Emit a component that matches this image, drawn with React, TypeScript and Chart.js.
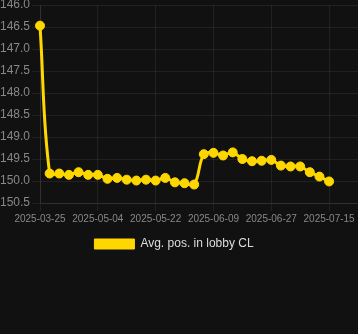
import React, { useEffect, useRef } from 'react';
import { Chart, registerables } from 'chart.js';

Chart.register(...registerables);

const dates: string[] = [
  '2025-03-25', '2025-04-19', '2025-04-22', '2025-04-25', '2025-04-28', '2025-05-01',
  '2025-05-04', '2025-05-07', '2025-05-10', '2025-05-13', '2025-05-16', '2025-05-19',
  '2025-05-22', '2025-05-25', '2025-05-28', '2025-05-31', '2025-06-03', '2025-06-06',
  '2025-06-09', '2025-06-12', '2025-06-15', '2025-06-18', '2025-06-21', '2025-06-24',
  '2025-06-27', '2025-06-30', '2025-07-03', '2025-07-06', '2025-07-09', '2025-07-12',
  '2025-07-15',
];

const avgPos: number[] = [
  146.47, 149.83, 149.83, 149.86, 149.80, 149.86,
  149.86, 149.95, 149.93, 149.97, 149.99, 149.97,
  149.99, 149.93, 150.03, 150.05, 150.08, 149.39,
  149.36, 149.42, 149.35, 149.50, 149.55, 149.54,
  149.52, 149.65, 149.67, 149.67, 149.80, 149.90,
  150.01,
];

const seriesLabel = 'Avg. pos. in lobby CL';
const yMin = 146;
const yMax = 150.5;
const yStep = 0.5;
const xTickStep = 6;
const xMax = 33;

const GOLD = '#FFD700';
const GRID = 'rgba(255,255,255,0.07)';
const TICK = '#888888';

export default function App() {
  const ref = useRef<HTMLCanvasElement>(null);

  useEffect(() => {
    document.documentElement.style.background = '#111111';
    document.body.style.margin = '0';
    document.body.style.background = '#111111';
    Chart.defaults.font.family = "'Liberation Sans', Arial, sans-serif";

    const chart = new Chart(ref.current as HTMLCanvasElement, {
      type: 'line',
      data: {
        datasets: [
          {
            label: seriesLabel,
            data: avgPos.map((v, i) => ({ x: i, y: v })),
            borderColor: GOLD,
            backgroundColor: GOLD,
            borderWidth: 3,
            pointRadius: 4.5,
            pointBorderWidth: 1,
            pointBackgroundColor: GOLD,
            pointBorderColor: GOLD,
            tension: 0.4,
            fill: false,
            clip: false,
          },
        ],
      },
      options: {
        responsive: false,
        animation: false,
        layout: { padding: { left: -10 }, autoPadding: false },
        scales: {
          x: {
            type: 'linear',
            min: 0,
            max: xMax,
            grid: { color: GRID },
            border: { color: GRID },
            ticks: {
              stepSize: xTickStep,
              includeBounds: false,
              autoSkip: false,
              maxRotation: 0,
              padding: 2,
              color: TICK,
              font: { size: 10 },
              callback: (v: any) => dates[Number(v)] ?? '',
            },
            afterFit: (s: any) => {
              s.paddingRight = 0;
              s.height = s.height + 1;
            },
          },
          y: {
            reverse: true,
            min: yMin,
            max: yMax,
            grid: { color: GRID },
            border: { color: GRID },
            ticks: {
              stepSize: yStep,
              color: TICK,
              padding: 2,
              font: { size: 12 },
              callback: (v: any) => Number(v).toFixed(1),
            },
            afterFit: (s: any) => {
              s.width = 50;
              s.paddingTop = 5;
            },
          },
        },
        plugins: {
          legend: {
            position: 'bottom',
            labels: {
              color: '#dddddd',
              boxWidth: 40,
              boxHeight: 10,
              font: { size: 12 },
              generateLabels: (c: any) => {
                const items = Chart.defaults.plugins.legend.labels.generateLabels(c);
                items.forEach((it: any) => {
                  it.lineWidth = 1;
                });
                return items;
              },
            },
          },
          tooltip: { enabled: false },
        },
      } as any,
    });
    return () => chart.destroy();
  }, []);

  return (
    <div style={{ width: 358, height: 334, background: '#111111', overflow: 'hidden' }}>
      <canvas ref={ref} width={358} height={260} style={{ display: 'block' }} />
    </div>
  );
}
